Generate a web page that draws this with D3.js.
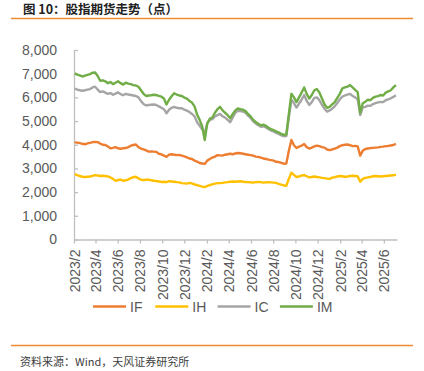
<!DOCTYPE html>
<html>
<head>
<meta charset="utf-8">
<script src="https://cdn.jsdelivr.net/npm/d3@7"></script>
<style>
  body { margin: 0; background: #fff; }
  svg { display: block; font-family: "Liberation Sans", Arial, sans-serif; }
</style>
</head>
<body>
<svg id="chart" width="424" height="371"></svg>
<script>
// weekly closes, first point 2023-02-03, one value every 7 days
const firstWeek = new Date(2023, 1, 3);

const tickLabels = ["2023/2", "2023/4", "2023/6", "2023/8", "2023/10", "2023/12",
  "2024/2", "2024/4", "2024/6", "2024/8", "2024/10", "2024/12",
  "2025/2", "2025/4", "2025/6"];

const seriesNames = ["IF", "IH", "IC", "IM"];

const ifValues = [4100,4090,4070,4040,4020,4060,4080,4110,4120,4110,
  4050,4000,3990,3930,3850,3870,3900,3850,3830,3850,
  3860,3900,3960,3990,4010,3900,3840,3800,3760,3710,
  3720,3710,3700,3620,3590,3540,3490,3580,3600,3580,
  3560,3570,3540,3510,3470,3420,3400,3330,3290,3230,
  3210,3190,3330,3400,3460,3500,3560,3550,3540,3580,
  3600,3620,3600,3630,3650,3640,3620,3600,3580,3560,
  3540,3500,3490,3460,3420,3400,3370,3350,3330,3280,
  3270,3240,3200,3210,3750,4200,3980,3860,3920,3960,
  4030,3900,3840,3880,3930,3960,3940,3900,3880,3800,
  3770,3800,3840,3880,3940,3980,4000,4010,3980,3940,
  3950,3930,3540,3750,3820,3840,3860,3870,3880,3890,
  3910,3920,3940,3950,3970,3990,4040];

const ihValues = [2760,2720,2680,2650,2640,2650,2660,2690,2720,2700,
  2680,2690,2680,2660,2620,2560,2480,2510,2530,2480,
  2500,2530,2590,2630,2650,2580,2520,2510,2520,2530,
  2500,2480,2470,2450,2430,2440,2420,2460,2450,2440,
  2420,2410,2380,2370,2360,2390,2370,2320,2300,2260,
  2230,2210,2260,2300,2330,2360,2380,2380,2390,2410,
  2420,2440,2450,2440,2450,2460,2440,2430,2420,2410,
  2400,2420,2430,2420,2400,2410,2420,2410,2400,2390,
  2350,2320,2280,2270,2560,2820,2730,2640,2660,2700,
  2720,2670,2620,2640,2660,2640,2620,2600,2590,2570,
  2560,2610,2630,2660,2680,2670,2650,2660,2680,2690,
  2680,2670,2440,2560,2600,2620,2640,2670,2680,2670,
  2660,2670,2680,2690,2700,2710,2740];

const icValues = [6370,6330,6300,6280,6300,6330,6350,6420,6450,6330,
  6220,6250,6200,6150,6180,6110,6160,6210,6140,6090,
  6150,6120,6100,6080,6060,6000,5840,5720,5660,5680,
  5690,5700,5680,5620,5560,5500,5330,5480,5560,5600,
  5560,5540,5540,5480,5440,5380,5300,5200,4950,4800,
  4650,4500,4900,5050,5080,5200,5250,5300,5200,5150,
  5050,4950,5150,5350,5430,5420,5400,5350,5230,5130,
  4990,4900,4820,4760,4780,4730,4660,4600,4560,4500,
  4460,4400,4360,4370,5150,5900,5760,5570,5740,5900,
  6100,5850,5680,5800,5980,6000,5880,5680,5520,5400,
  5450,5520,5620,5760,5920,6030,6080,6120,6150,6060,
  6000,5920,5250,5580,5600,5650,5640,5720,5760,5790,
  5810,5800,5880,5920,5960,6020,6090];

const imValues = [7010,6960,6930,6880,6920,6950,6980,7040,7050,6900,
  6700,6720,6680,6600,6650,6560,6620,6680,6600,6540,
  6620,6580,6560,6520,6500,6450,6300,6150,6060,6080,
  6090,6110,6100,6060,6030,5950,5700,5900,6050,6170,
  6120,6080,6060,5990,5950,5850,5780,5620,5280,5050,
  4780,4200,4900,5100,5150,5350,5500,5600,5450,5350,
  5250,5120,5300,5450,5530,5500,5480,5420,5300,5200,
  5050,4960,4880,4820,4850,4800,4720,4660,4620,4560,
  4520,4460,4420,4430,5300,6150,6000,5800,6000,6200,
  6420,6150,5950,6100,6300,6350,6200,5950,5700,5560,
  5600,5700,5800,5980,6150,6380,6420,6450,6520,6420,
  6320,6220,5350,5750,5820,5900,5880,5980,6030,6050,
  6100,6080,6200,6250,6300,6420,6520];

const colors = ["#ED7D31", "#FFC000", "#A5A5A5", "#70AD47"];
const axisGray = "#BFBFBF", textGray = "#595959", rule = "#EF8B33";

const svg = d3.select("#chart");

// title and rules
svg.append("text").attr("x", 23).attr("y", 14)
  .attr("font-family", "'Noto Sans CJK SC', sans-serif").attr("font-size", 12.5).attr("font-weight", "bold")
  .attr("fill", "#222").text("图 10：股指期货走势（点）");
svg.append("line").attr("x1", 11).attr("x2", 413).attr("y1", 18.5).attr("y2", 18.5)
  .attr("stroke", rule).attr("stroke-width", 1.5);
svg.append("line").attr("x1", 11).attr("x2", 413).attr("y1", 345.5).attr("y2", 345.5)
  .attr("stroke", rule).attr("stroke-width", 1.5);
svg.append("text").attr("x", 20).attr("y", 365.5)
  .attr("font-family", "'Noto Sans CJK SC', sans-serif").attr("font-size", 11)
  .attr("fill", "#404040").text("资料来源：Wind，天风证券研究所");

// scales
const x = d3.scaleTime().domain([new Date(2023, 1, 1), new Date(2025, 6, 7)]).range([74, 397]);
const y = d3.scaleLinear().domain([0, 8000]).range([239.5, 50]);

const parseTick = d3.timeParse("%Y/%m");
const tickDates = tickLabels.map(parseTick);

// y axis
const yAxis = svg.append("g").attr("transform", "translate(74,0)")
  .call(d3.axisLeft(y).tickValues(d3.range(0, 8001, 1000)).tickFormat(d3.format(","))
    .tickSizeInner(-4).tickSizeOuter(0).tickPadding(17));
yAxis.select(".domain").attr("stroke", axisGray).attr("stroke-width", 1.3);
yAxis.selectAll(".tick line").attr("stroke", axisGray).attr("stroke-width", 1.3);
yAxis.selectAll("text").attr("font-size", 14).attr("fill", textGray);

// x axis
const xAxis = svg.append("g").attr("transform", "translate(0,239.5)")
  .call(d3.axisBottom(x).tickValues(tickDates).tickFormat((d, i) => tickLabels[i])
    .tickSizeInner(4).tickSizeOuter(0));
xAxis.select(".domain").attr("stroke", axisGray).attr("stroke-width", 1.3);
xAxis.selectAll(".tick line").attr("stroke", axisGray).attr("stroke-width", 1.3);
xAxis.selectAll("text")
  .attr("font-size", 14).attr("fill", textGray)
  .attr("text-anchor", "end")
  .attr("transform", "rotate(-90)")
  .attr("x", -10).attr("y", 0).attr("dy", "0.36em");

// lines
const allSeries = [ifValues, ihValues, icValues, imValues];
const line = d3.line()
  .x((d, i) => x(d3.timeDay.offset(firstWeek, 7 * i)))
  .y(d => y(d));

svg.append("g").selectAll("path")
  .data(allSeries).join("path")
  .attr("d", d => line(d))
  .attr("fill", "none")
  .attr("stroke", (d, i) => colors[i])
  .attr("stroke-width", 2.4)
  .attr("stroke-linejoin", "round");

// legend
const legend = svg.append("g").selectAll("g")
  .data(seriesNames).join("g")
  .attr("transform", (d, i) => `translate(${93 + i * 62.3},306.5)`);
legend.append("line").attr("x1", 0).attr("x2", 33)
  .attr("stroke", (d, i) => colors[i]).attr("stroke-width", 2.5);
legend.append("text").attr("x", 37).attr("dy", "0.36em")
  .attr("font-size", 14).attr("fill", textGray).text(d => d);
</script>
</body>
</html>
